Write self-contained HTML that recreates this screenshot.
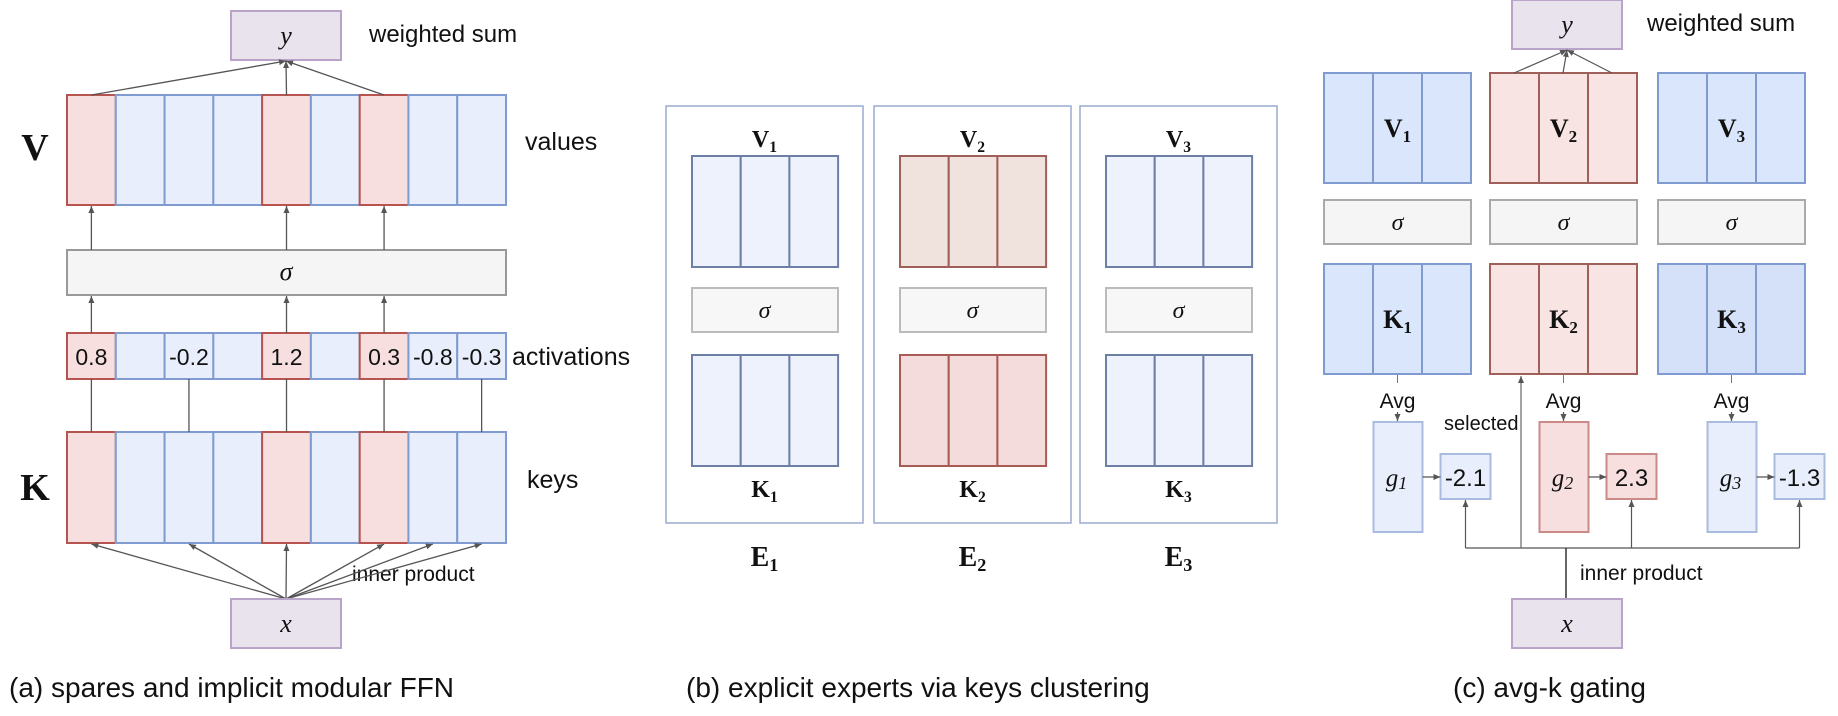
<!DOCTYPE html>
<html><head><meta charset="utf-8"><style>
html,body{margin:0;padding:0;background:#fff;}
svg{display:block;}
.t{font-family:"Liberation Sans",sans-serif;fill:#111;}
.m{font-family:"Liberation Serif",serif;font-style:italic;fill:#111;}
.b{font-family:"Liberation Serif",serif;font-weight:bold;fill:#111;}
</style></head><body>
<svg width="1838" height="716" viewBox="0 0 1838 716">
<defs><marker id="ah" markerWidth="8" markerHeight="8" refX="7" refY="4" orient="auto" markerUnits="userSpaceOnUse"><path d="M0,1 L7,4 L0,7 Z" fill="#555"/></marker></defs>

<!-- Panel (a) -->
<g>
<rect x="231" y="11" width="110" height="49" fill="#e9e3ee" stroke="#b9a3c8" stroke-width="2"/>
<text x="286" y="44" class="m" font-size="26" text-anchor="middle">y</text>
<text x="369" y="42" class="t" font-size="24">weighted sum</text>
<text x="35" y="160" class="b" font-size="38" text-anchor="middle">V</text>
<text x="35" y="500" class="b" font-size="38" text-anchor="middle">K</text>
<g id="vrow"></g>
<g id="krow"></g>
<g id="arow"></g>
<rect x="67" y="250" width="439" height="45" fill="#f5f5f5" stroke="#999" stroke-width="2"/>
<text x="286" y="280" class="m" font-size="26" text-anchor="middle">σ</text>
<text x="525" y="150" class="t" font-size="25">values</text>
<text x="512" y="365" class="t" font-size="25">activations</text>
<text x="527" y="488" class="t" font-size="25">keys</text>
<text x="352" y="581" class="t" font-size="21">inner product</text>
<g id="aarrows" stroke="#555" stroke-width="1.3" fill="none"></g>
<rect x="231" y="599" width="110" height="49" fill="#e9e3ee" stroke="#b9a3c8" stroke-width="2"/>
<text x="286" y="632" class="m" font-size="26" text-anchor="middle">x</text>
<text x="9" y="697" class="t" font-size="28">(a) spares and implicit modular FFN</text>
</g>

<!-- Panel (b) -->
<g id="pb"></g>
<text x="686" y="697" class="t" font-size="28">(b) explicit experts via keys clustering</text>

<!-- Panel (c) -->
<g>
<rect x="1512" y="0" width="110" height="49" fill="#e9e3ee" stroke="#b9a3c8" stroke-width="2"/>
<text x="1567" y="33" class="m" font-size="26" text-anchor="middle">y</text>
<text x="1647" y="31" class="t" font-size="24">weighted sum</text>
<g id="pc"></g>
<text x="1444" y="430" class="t" font-size="20">selected</text>
<text x="1580" y="580" class="t" font-size="21">inner product</text>
<rect x="1512" y="599" width="110" height="49" fill="#e9e3ee" stroke="#b9a3c8" stroke-width="2"/>
<text x="1567" y="632" class="m" font-size="26" text-anchor="middle">x</text>
<text x="1453" y="697" class="t" font-size="28">(c) avg-k gating</text>
</g>
</svg>
<script>
const NS='http://www.w3.org/2000/svg';
const activationVals=['0.8','','-0.2','','1.2','','0.3','-0.8','-0.3'];
const selectedCols=[0,4,6];
const keyLinkCols=[0,2,4,6,8];
const inputLinkCols=[0,2,4,6,7,8];
const gateScores=['-2.1','2.3','-1.3'];
const selectedExpert=1;
function mk(tag,attrs,parent){const e=document.createElementNS(NS,tag);for(const k in attrs)e.setAttribute(k,attrs[k]);parent.appendChild(e);return e;}
const PINK={f:'#f8dfdf',s:'#b85450'},BLUE={f:'#e8eefc',s:'#7f9bcf'};
const X0=67,CW=48.78;
const cx=i=>X0+CW*i+CW/2;
function row(id,y,h,withText){
  const g=document.getElementById(id);
  for(let i=0;i<9;i++){
    const c=selectedCols.includes(i)?PINK:BLUE;
    const r=mk('rect',{x:X0+CW*i,y:y,width:CW,height:h,fill:c.f,stroke:c.s,'stroke-width':2},g);
    
    
    if(withText&&activationVals[i]){
      const t=mk('text',{x:cx(i),y:y+h/2+9,class:'t','font-size':23,'text-anchor':'middle'},g);
      t.textContent=activationVals[i];
      
      
    }
  }
}
row('vrow',95,110,false);row('krow',432,111,false);row('arow',333,46,true);
const aa=document.getElementById('aarrows');
selectedCols.forEach(i=>{
  let l=mk('line',{x1:cx(i),y1:95,x2:286,y2:61,'marker-end':'url(#ah)'},aa);
  
  
  l=mk('line',{x1:cx(i),y1:250,x2:cx(i),y2:206,'marker-end':'url(#ah)'},aa);
  
  
  l=mk('line',{x1:cx(i),y1:333,x2:cx(i),y2:296,'marker-end':'url(#ah)'},aa);
  
  
});
keyLinkCols.forEach(i=>{
  const l=mk('line',{x1:cx(i),y1:432,x2:cx(i),y2:379},aa);
  
  
});
inputLinkCols.forEach(i=>{
  const l=mk('line',{x1:286,y1:599,x2:cx(i),y2:544,'marker-end':'url(#ah)'},aa);
  
  
});
// panel b
const pb=document.getElementById('pb');
const eX=[666,874,1080];
eX.forEach((x,k)=>{
  const box=mk('rect',{x:x,y:106,width:197,height:417,fill:'#fff',stroke:'#9aabcf','stroke-width':1.5},pb);
  
  
  const ix=x+26,c=x+98.5,sel=k===1;
  [[156,sel?{f:'#f0e2dc',s:'#a0605a'}:{f:'#edf2fd',s:'#6e7fa6'}],[355,sel?{f:'#f5dcdc',s:'#a85a55'}:{f:'#edf2fd',s:'#6e7fa6'}]].forEach(([y,c2])=>{
    for(let j=0;j<3;j++){
      const r=mk('rect',{x:ix+j*48.7,y:y,width:48.7,height:111,fill:c2.f,stroke:c2.s,'stroke-width':2},pb);
      
      
    }
  });
  const s=mk('rect',{x:ix,y:288,width:146,height:44,fill:'#f7f7f7',stroke:'#bbb','stroke-width':2},pb);
  
  
  const st=mk('text',{x:c,y:318,class:'m','font-size':24,'text-anchor':'middle'},pb);st.textContent='σ';
  
  
  [['V',147,24],['K',497,24],['E',566,28]].forEach(([L,y,fs])=>{
    const t=mk('text',{x:c,y:y,class:'b','font-size':fs,'text-anchor':'middle'},pb);
    t.innerHTML=L+'<tspan font-size="'+(fs*0.65)+'" dy="5">'+(k+1)+'</tspan>';
    
    
  });
});
// panel c
const pc=document.getElementById('pc');
const cX=[1324,1490,1658];
cX.forEach((x,k)=>{
  const sel=k===selectedExpert,c=x+73.5;
  const vc=sel?{f:'#f8e4e2',s:'#a0605a'}:{f:'#dae6fb',s:'#7f9bcf'};
  const kc=sel?{f:'#f8e4e2',s:'#a0605a'}:{f:k===2?'#d4e1f8':'#dae6fb',s:'#7f9bcf'};
  [[73,vc,'V'],[264,kc,'K']].forEach(([y,cc,L])=>{
    for(let j=0;j<3;j++){
      const r=mk('rect',{x:x+j*49,y:y,width:49,height:110,fill:cc.f,stroke:cc.s,'stroke-width':2},pc);
      
      
    }
    const t=mk('text',{x:c,y:y+64,class:'b','font-size':26,'text-anchor':'middle'},pc);
    t.innerHTML=L+'<tspan font-size="17" dy="5">'+(k+1)+'</tspan>';
    
    
  });
  const s=mk('rect',{x:x,y:200,width:147,height:44,fill:'#f5f5f5',stroke:'#aaa','stroke-width':2},pc);
  
  
  const st=mk('text',{x:c,y:230,class:'m','font-size':24,'text-anchor':'middle'},pc);st.textContent='σ';
  
  
  const av=mk('text',{x:c,y:408,class:'t','font-size':21,'text-anchor':'middle'},pc);av.textContent='Avg';
  
  
  let l=mk('line',{x1:c,y1:375,x2:c,y2:383,stroke:'#777','stroke-width':1},pc);
  
  
  l=mk('line',{x1:c,y1:412,x2:c,y2:421,stroke:'#555','stroke-width':1.2,'marker-end':'url(#ah)'},pc);
  
  
  const gc=sel?{f:'#f8dfdf',s:'#c98a88'}:{f:'#e8eefc',s:'#a9bce0'};
  const gx=c-24;
  const g=mk('rect',{x:gx,y:422,width:49,height:110,fill:gc.f,stroke:gc.s,'stroke-width':2},pc);
  
  
  const gt=mk('text',{x:gx+23,y:486,class:'m','font-size':25,'text-anchor':'middle'},pc);
  gt.innerHTML='g<tspan font-size="18" dy="3">'+(k+1)+'</tspan>';
  
  
  const vx=gx+67;
  const vb=mk('rect',{x:vx,y:454,width:50,height:45,fill:gc.f,stroke:sel?'#c98a88':'#a9bce0','stroke-width':2},pc);
  
  
  const vt=mk('text',{x:vx+25,y:486,class:'t','font-size':24,'text-anchor':'middle'},pc);vt.textContent=gateScores[k];
  
  
  l=mk('line',{x1:gx+49,y1:477,x2:vx,y2:477,stroke:'#555','stroke-width':1.2,'marker-end':'url(#ah)'},pc);
  
  
  l=mk('line',{x1:vx+25,y1:548,x2:vx+25,y2:500,stroke:'#555','stroke-width':1.2,'marker-end':'url(#ah)'},pc);
  
  
  if(k===0){
    l=mk('line',{x1:vx+25,y1:548,x2:cX[2]+73.5-24+67+25,y2:548,stroke:'#555','stroke-width':1.2},pc);
    
    
  }
});
let l2=mk('line',{x1:1521,y1:548,x2:1521,y2:376,stroke:'#666','stroke-width':1.2,'marker-end':'url(#ah)'},pc);


l2=mk('line',{x1:1566,y1:599,x2:1566,y2:548,stroke:'#333','stroke-width':1.5},pc);


[1514,1563,1612].forEach(x=>{
  const l=mk('line',{x1:x,y1:73,x2:1567,y2:50,stroke:'#555','stroke-width':1.2,'marker-end':'url(#ah)'},pc);
  
  
});
</script>
</body></html>
